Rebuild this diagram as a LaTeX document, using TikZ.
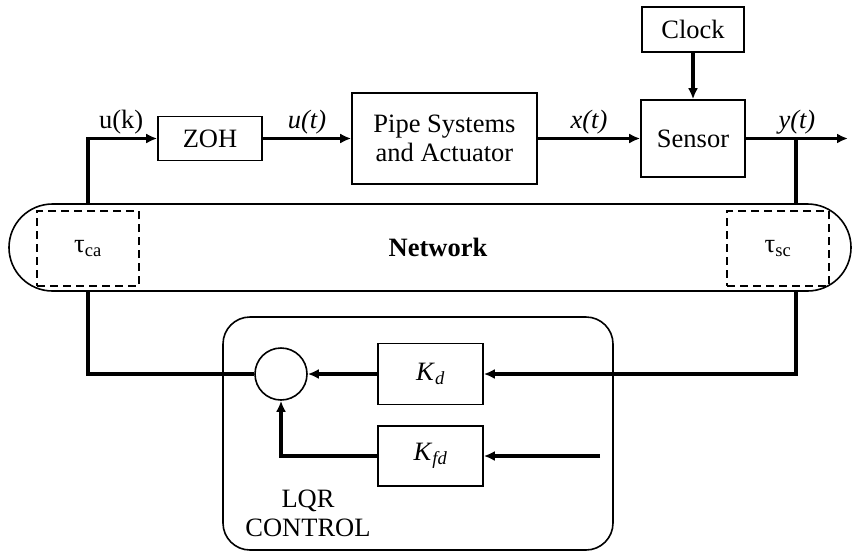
\documentclass[tikz,border=0pt]{standalone}
\usepackage{fontspec}
\setmainfont{Liberation Serif}
\usetikzlibrary{arrows.meta,positioning}

\tikzset{
  block/.style={draw,line width=1.6pt,inner sep=0pt},
  delaybox/.style={draw,dash pattern=on 8pt off 5pt,line width=1.6pt,minimum width=102pt,minimum height=75pt},
  sig/.style={line width=3.2pt,-{Latex[length=11pt,width=10pt]}},
  wire/.style={line width=3.2pt},
  siglabel/.style={above,inner sep=3pt},
}

\begin{document}
\begin{tikzpicture}[x=1pt,y=-1pt,font=\fontsize{26.5}{29}\selectfont]
    \useasboundingbox (0,0) rectangle (853,552);
    % plant side
    \node[block,minimum width=104pt,minimum height=44pt] (zoh) at (210,138.5) {ZOH};
    \node[block,minimum width=185pt,minimum height=91pt,align=center] (pipe) at (444.5,138.5) {Pipe Systems\\and Actuator};
    \node[block,minimum width=104pt,minimum height=77pt] (sensor) at (693,138.5) {Sensor};
    \node[block,minimum width=102pt,minimum height=45pt] (clock) at (693,29.5) {Clock};
    \coordinate (yout) at (848,138.5);
    \coordinate (yb) at (796,138.5);
    % network
    \node[draw,line width=1.6pt,rounded corners=43.5pt,minimum width=842pt,minimum height=87pt,inner sep=0pt,
          label={[xshift=8pt]center:\textbf{Network}}] (net) at (430,247.5) {};
    \node[delaybox] (tauca) at (88,248.5) {τ\textsubscript{ca}};
    \node[delaybox] (tausc) at (778,248.5) {τ\textsubscript{sc}};
    % controller
    \node[block,rounded corners=27pt,minimum width=390pt,minimum height=233pt] (lqr) at (418,433.5) {};
    \node[align=center] (lqrname) at (308,513) {LQR\\CONTROL};
    \node[draw,circle,line width=1.6pt,minimum size=52pt,inner sep=0pt] (sum) at (281,374) {};
    \node[block,minimum width=105pt,minimum height=61pt] (kd) at (430.5,374) {\textit{K}\textsubscript{\textit{d}}};
    \node[block,minimum width=105pt,minimum height=60pt] (kfd) at (430.5,456) {\textit{K}\textsubscript{\textit{fd}}};
    \coordinate (kin) at (600,456);
    % signals
    \draw[sig] (tauca.north |- net.north) |- node[siglabel,pos=0.74] {u(k)} (zoh.west);
    \path[sig]
        (zoh) edge node[siglabel] {\textit{u(t)}} (pipe)
        (pipe) edge node[siglabel] {\textit{x(t)}} (sensor)
        (clock) edge (sensor)
        (sensor) edge node[siglabel] {\textit{y(t)}} (yout);
    \draw[wire] (yb) -- (yb |- net.north);
    \draw[sig] (yb |- net.south) |- (kd.east);
    \draw[wire] (tauca.south |- net.south) |- (sum.west);
    \draw[sig] (kd) -- (sum);
    \draw[sig] (kin) -- (kfd);
    \draw[sig] (kfd.west) -| (sum.south);
\end{tikzpicture}
\end{document}
